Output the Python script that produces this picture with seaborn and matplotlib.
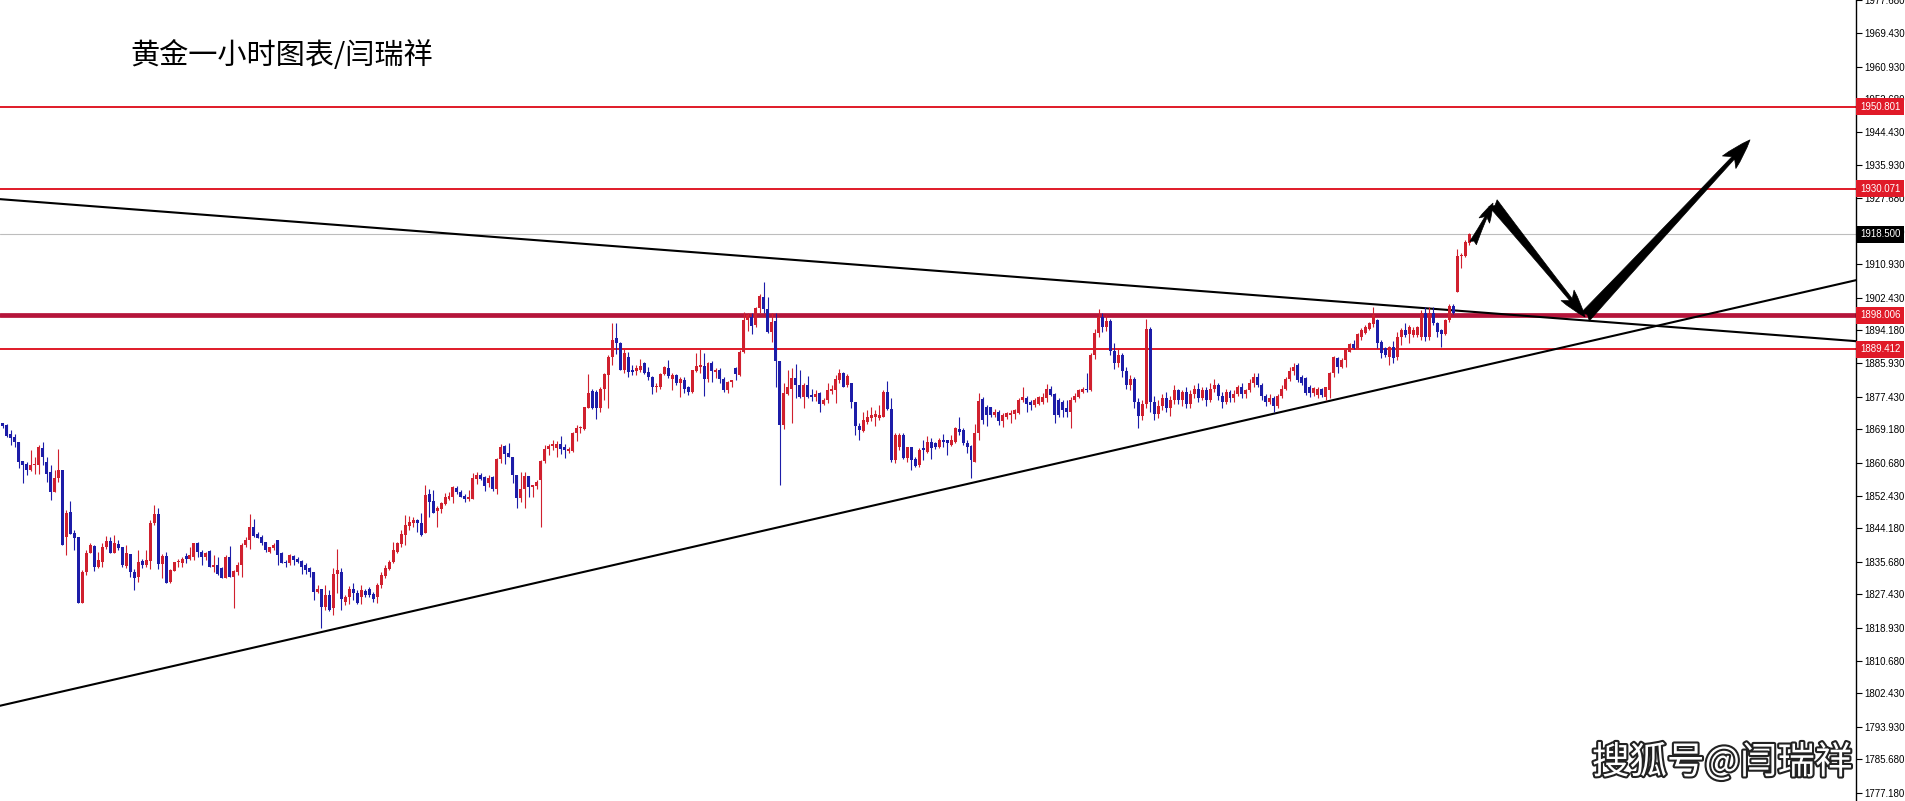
import matplotlib
matplotlib.use('Agg')
import matplotlib.pyplot as plt
import matplotlib.transforms as mtransforms
import matplotlib.patheffects as pe
import numpy as np
import pandas as pd
import seaborn as sns

# 黄金 1小时 K线 (从图上读出的开高低收)
OPEN = [
    1870.7, 1870.3, 1868.0, 1867.3, 1866.0, 1861.2, 1860.4, 1858.9, 1860.1, 1860.1,
    1864.4, 1861.0, 1858.5, 1853.4, 1856.8, 1859.0, 1842.0, 1848.3, 1842.9, 1842.0,
    1825.3, 1833.2, 1838.0, 1839.7, 1834.3, 1835.7, 1839.5, 1840.9, 1838.0, 1840.2,
    1839.5, 1834.6, 1837.6, 1833.2, 1831.9, 1835.9, 1834.8, 1835.9, 1845.4, 1847.7,
    1835.1, 1837.1, 1830.6, 1833.4, 1835.5, 1835.3, 1837.1, 1836.5, 1837.0, 1840.5,
    1838.2, 1837.0, 1838.5, 1834.4, 1834.8, 1834.0, 1831.5, 1837.0, 1831.9, 1833.2,
    1834.8, 1839.9, 1841.3, 1844.5, 1842.8, 1842.0, 1840.7, 1838.2, 1839.1, 1841.2,
    1838.0, 1835.7, 1835.3, 1837.1, 1836.5, 1835.9, 1834.8, 1834.0, 1833.2, 1828.1,
    1828.9, 1824.3, 1827.2, 1823.9, 1832.7, 1833.2, 1825.6, 1826.8, 1828.7, 1827.7,
    1826.8, 1828.4, 1828.9, 1827.4, 1826.8, 1829.8, 1832.1, 1833.8, 1835.7, 1838.2,
    1840.2, 1842.4, 1844.7, 1845.6, 1846.2, 1845.4, 1842.9, 1852.7, 1851.0, 1848.4,
    1848.9, 1850.3, 1851.5, 1852.1, 1854.4, 1853.4, 1852.3, 1851.5, 1851.5, 1856.5,
    1857.6, 1857.0, 1855.5, 1857.0, 1854.0, 1861.6, 1864.9, 1863.3, 1862.1, 1857.6,
    1851.7, 1854.0, 1857.4, 1854.5, 1854.8, 1856.4, 1861.2, 1864.1, 1864.9, 1864.4,
    1865.5, 1864.6, 1863.8, 1863.8, 1868.2, 1869.4, 1869.2, 1874.5, 1878.9, 1878.7,
    1874.5, 1879.3, 1882.9, 1887.4, 1892.2, 1891.1, 1884.2, 1887.6, 1884.3, 1884.0,
    1884.2, 1885.9, 1883.8, 1882.3, 1879.8, 1879.8, 1883.2, 1884.6, 1881.8, 1882.9,
    1881.0, 1881.6, 1879.8, 1878.7, 1884.0, 1885.0, 1885.2, 1881.8, 1886.0, 1883.8,
    1884.2, 1881.8, 1879.0, 1881.2, 1884.6, 1882.9, 1888.8, 1896.8, 1897.7, 1895.6,
    1899.8, 1902.7, 1899.5, 1893.9, 1896.7, 1886.5, 1870.3, 1878.1, 1879.5, 1882.1,
    1880.4, 1877.4, 1880.4, 1877.9, 1877.3, 1878.3, 1875.6, 1876.6, 1878.9, 1879.1,
    1881.6, 1883.3, 1880.4, 1880.8, 1876.2, 1870.0, 1868.8, 1871.1, 1872.0, 1872.4,
    1872.0, 1872.4, 1878.7, 1874.2, 1861.4, 1864.8, 1867.7, 1861.8, 1864.6, 1861.6,
    1860.1, 1864.4, 1863.5, 1866.0, 1865.6, 1864.6, 1866.6, 1866.5, 1865.2, 1866.0,
    1869.2, 1869.0, 1865.8, 1864.9, 1861.0, 1868.3, 1876.8, 1874.9, 1874.7, 1872.8,
    1873.6, 1871.4, 1872.4, 1872.8, 1873.0, 1873.2, 1876.6, 1877.0, 1876.2, 1875.3,
    1875.7, 1876.2, 1877.0, 1879.5, 1878.1, 1876.6, 1876.2, 1874.5, 1873.6, 1876.6,
    1877.4, 1878.7, 1879.5, 1879.0, 1888.0, 1893.5, 1897.5, 1895.0, 1896.5, 1889.0,
    1886.0, 1888.0, 1884.0, 1880.5, 1882.0, 1876.0, 1872.5, 1875.5, 1894.5, 1876.0,
    1873.0, 1875.0, 1877.0, 1874.5, 1876.5, 1879.0, 1876.5, 1878.5, 1875.5, 1878.0,
    1879.5, 1877.0, 1879.0, 1876.5, 1879.5, 1880.5, 1877.5, 1876.0, 1878.5, 1877.0,
    1878.0, 1880.0, 1878.0, 1879.0, 1881.0, 1882.5, 1880.5, 1877.5, 1876.0, 1877.0,
    1875.0, 1877.5, 1879.5, 1882.0, 1884.0, 1885.5, 1882.5, 1882.1, 1880.0, 1878.3,
    1877.9, 1879.3, 1877.4, 1879.1, 1883.3, 1887.1, 1885.0, 1886.7, 1888.8, 1890.8,
    1889.7, 1892.6, 1893.6, 1894.5, 1895.8, 1896.8, 1891.3, 1889.7, 1887.6, 1890.1,
    1887.6, 1892.6, 1894.3, 1893.3, 1893.0, 1893.0, 1892.6, 1898.7, 1892.6, 1898.7,
    1896.2, 1894.3, 1893.3, 1896.8, 1900.4, 1904.0, 1912.9, 1913.0, 1916.4,
]
HIGH = [
    1870.7, 1870.5, 1869.0, 1868.1, 1866.0, 1861.2, 1861.0, 1863.9, 1862.2, 1865.2,
    1866.0, 1862.2, 1860.1, 1858.9, 1864.1, 1859.0, 1848.8, 1851.1, 1843.7, 1842.0,
    1833.6, 1838.6, 1840.5, 1839.9, 1838.2, 1840.3, 1842.2, 1842.0, 1842.4, 1841.3,
    1839.5, 1839.9, 1837.6, 1833.8, 1838.6, 1836.5, 1838.6, 1846.2, 1850.0, 1849.2,
    1837.6, 1838.2, 1833.8, 1835.7, 1836.5, 1837.0, 1837.8, 1839.5, 1840.5, 1840.7,
    1838.6, 1838.2, 1838.6, 1837.4, 1836.9, 1834.4, 1837.4, 1839.6, 1833.6, 1835.7,
    1840.3, 1842.0, 1847.7, 1846.6, 1843.3, 1842.4, 1840.7, 1839.5, 1840.3, 1841.2,
    1838.2, 1836.1, 1837.6, 1837.4, 1836.9, 1836.1, 1835.3, 1834.4, 1833.2, 1829.8,
    1828.9, 1829.8, 1828.5, 1834.0, 1838.8, 1834.0, 1827.2, 1829.5, 1830.2, 1828.5,
    1829.8, 1828.9, 1829.4, 1828.1, 1830.2, 1833.2, 1834.8, 1836.1, 1840.7, 1840.7,
    1843.7, 1847.5, 1847.2, 1847.1, 1846.6, 1847.9, 1855.1, 1854.2, 1853.8, 1849.8,
    1850.9, 1853.0, 1853.4, 1854.8, 1854.8, 1853.8, 1852.8, 1853.8, 1858.2, 1858.5,
    1858.2, 1857.4, 1857.6, 1857.4, 1861.8, 1865.5, 1865.2, 1865.8, 1862.1, 1857.6,
    1858.5, 1858.5, 1857.4, 1855.1, 1856.4, 1861.4, 1865.2, 1865.5, 1866.4, 1866.1,
    1867.5, 1865.5, 1864.8, 1868.6, 1870.3, 1870.0, 1874.9, 1883.2, 1879.5, 1879.1,
    1879.8, 1883.3, 1888.0, 1896.1, 1896.0, 1891.3, 1889.4, 1888.8, 1885.4, 1885.4,
    1886.9, 1886.3, 1885.0, 1882.7, 1880.8, 1883.5, 1885.2, 1886.7, 1883.5, 1883.2,
    1882.3, 1882.3, 1880.1, 1884.3, 1888.4, 1889.4, 1888.4, 1886.3, 1886.5, 1884.6,
    1884.6, 1882.3, 1881.5, 1881.6, 1885.0, 1889.2, 1898.9, 1898.7, 1898.7, 1900.0,
    1903.4, 1906.5, 1902.6, 1898.5, 1898.5, 1886.5, 1880.8, 1884.2, 1884.6, 1885.7,
    1884.2, 1880.8, 1882.7, 1879.5, 1879.1, 1878.7, 1877.0, 1880.8, 1880.4, 1882.9,
    1884.4, 1883.8, 1883.2, 1880.8, 1876.2, 1870.7, 1873.6, 1874.1, 1874.9, 1874.1,
    1875.3, 1879.1, 1881.5, 1877.0, 1868.2, 1868.2, 1868.2, 1864.8, 1864.8, 1862.3,
    1864.4, 1866.5, 1867.5, 1866.9, 1866.0, 1867.1, 1868.0, 1866.6, 1867.7, 1869.8,
    1872.2, 1869.4, 1866.5, 1865.2, 1870.5, 1878.4, 1877.4, 1875.3, 1874.9, 1874.2,
    1874.1, 1873.2, 1873.6, 1874.1, 1874.2, 1877.0, 1880.0, 1877.6, 1876.6, 1877.0,
    1877.6, 1878.3, 1880.6, 1880.1, 1878.3, 1877.0, 1876.6, 1876.6, 1877.4, 1878.3,
    1879.5, 1880.0, 1883.3, 1888.5, 1894.5, 1899.5, 1898.5, 1898.0, 1897.0, 1891.0,
    1889.5, 1888.5, 1885.0, 1883.0, 1882.5, 1877.0, 1876.5, 1897.0, 1895.0, 1877.5,
    1876.5, 1878.0, 1878.5, 1877.5, 1880.5, 1879.5, 1879.0, 1880.0, 1879.0, 1880.5,
    1881.0, 1880.0, 1880.0, 1881.0, 1882.0, 1881.0, 1878.5, 1879.5, 1879.0, 1879.0,
    1880.5, 1881.0, 1879.5, 1882.0, 1883.5, 1883.5, 1881.0, 1878.0, 1878.0, 1877.5,
    1878.0, 1880.5, 1882.5, 1885.0, 1886.0, 1885.9, 1882.8, 1882.3, 1880.4, 1880.0,
    1879.8, 1879.6, 1880.0, 1883.7, 1887.7, 1887.6, 1887.1, 1889.7, 1891.1, 1891.9,
    1893.6, 1894.7, 1895.6, 1896.4, 1900.0, 1897.2, 1891.8, 1890.1, 1890.3, 1891.6,
    1893.9, 1894.7, 1896.0, 1895.6, 1895.1, 1895.3, 1899.4, 1900.2, 1900.2, 1900.2,
    1896.4, 1894.5, 1897.2, 1900.9, 1900.9, 1914.9, 1913.7, 1917.1, 1918.9,
]
LOW = [
    1869.4, 1867.3, 1865.2, 1864.6, 1859.5, 1855.5, 1857.6, 1858.7, 1858.0, 1858.0,
    1860.1, 1855.9, 1851.3, 1853.4, 1855.9, 1839.9, 1837.4, 1842.7, 1838.6, 1825.3,
    1825.3, 1832.3, 1837.8, 1833.4, 1834.0, 1834.4, 1838.8, 1837.8, 1837.8, 1838.6,
    1834.4, 1834.0, 1831.9, 1828.5, 1830.6, 1834.0, 1834.4, 1833.8, 1845.0, 1833.8,
    1831.5, 1830.4, 1830.2, 1833.3, 1834.4, 1834.4, 1835.3, 1836.1, 1836.1, 1837.0,
    1834.8, 1836.1, 1834.4, 1833.2, 1832.3, 1831.5, 1831.5, 1831.7, 1823.9, 1832.3,
    1831.9, 1839.5, 1838.8, 1842.0, 1841.6, 1839.9, 1838.2, 1837.8, 1838.6, 1834.8,
    1835.3, 1834.4, 1834.8, 1834.8, 1835.3, 1832.7, 1832.7, 1831.9, 1826.0, 1827.7,
    1818.8, 1823.5, 1823.3, 1822.2, 1827.7, 1823.5, 1824.7, 1825.1, 1826.0, 1825.1,
    1825.1, 1826.8, 1826.8, 1825.6, 1825.3, 1829.0, 1831.5, 1833.6, 1835.3, 1837.8,
    1839.5, 1839.9, 1843.7, 1844.5, 1843.3, 1842.2, 1842.9, 1847.1, 1847.9, 1844.5,
    1847.9, 1850.0, 1851.3, 1850.6, 1852.8, 1852.0, 1850.9, 1851.1, 1851.5, 1855.3,
    1856.4, 1853.6, 1854.5, 1853.6, 1852.8, 1860.6, 1860.4, 1862.1, 1855.5, 1849.2,
    1850.9, 1849.2, 1852.0, 1852.0, 1854.2, 1844.5, 1860.6, 1862.7, 1864.0, 1862.3,
    1862.9, 1861.8, 1863.1, 1863.5, 1866.3, 1868.2, 1869.0, 1874.5, 1874.2, 1871.7,
    1873.6, 1876.6, 1874.5, 1885.4, 1888.2, 1884.2, 1883.3, 1882.5, 1882.9, 1882.9,
    1883.8, 1883.2, 1881.6, 1878.1, 1878.7, 1879.5, 1882.9, 1882.1, 1879.1, 1880.4,
    1877.3, 1878.3, 1877.9, 1878.3, 1883.8, 1883.5, 1877.6, 1881.2, 1881.2, 1882.1,
    1880.8, 1878.7, 1878.3, 1879.8, 1881.6, 1882.7, 1888.4, 1894.1, 1893.3, 1895.1,
    1898.5, 1898.5, 1893.5, 1891.3, 1880.0, 1855.1, 1869.2, 1877.9, 1870.7, 1877.0,
    1877.0, 1874.5, 1877.0, 1876.4, 1876.4, 1873.6, 1875.3, 1875.9, 1878.1, 1875.8,
    1880.8, 1879.8, 1880.0, 1874.5, 1867.7, 1866.5, 1868.6, 1870.5, 1871.4, 1869.9,
    1871.5, 1872.2, 1874.1, 1861.0, 1860.6, 1864.0, 1861.6, 1861.0, 1858.9, 1859.7,
    1859.7, 1861.4, 1863.3, 1861.6, 1864.1, 1864.4, 1864.8, 1862.7, 1864.9, 1865.6,
    1867.7, 1865.2, 1863.3, 1856.8, 1861.0, 1866.5, 1870.5, 1870.0, 1872.2, 1872.4,
    1870.3, 1869.8, 1871.7, 1870.9, 1871.9, 1873.0, 1876.2, 1873.6, 1874.1, 1874.9,
    1875.3, 1875.7, 1876.2, 1877.6, 1870.7, 1872.4, 1872.4, 1872.4, 1869.4, 1876.2,
    1877.0, 1878.3, 1878.7, 1878.8, 1887.0, 1892.5, 1893.8, 1894.0, 1888.0, 1884.5,
    1885.0, 1882.5, 1879.5, 1879.0, 1874.5, 1869.5, 1871.5, 1874.5, 1873.5, 1871.5,
    1872.0, 1874.0, 1873.5, 1872.5, 1875.5, 1875.5, 1875.0, 1874.5, 1874.5, 1877.0,
    1876.0, 1876.5, 1875.0, 1876.0, 1878.5, 1876.5, 1874.5, 1875.5, 1876.0, 1876.0,
    1877.5, 1877.0, 1877.0, 1878.5, 1880.0, 1880.0, 1876.5, 1875.0, 1875.5, 1873.5,
    1874.5, 1877.0, 1879.0, 1881.5, 1883.0, 1881.2, 1880.3, 1877.9, 1877.4, 1877.6,
    1877.2, 1877.4, 1876.6, 1877.0, 1882.5, 1883.3, 1884.6, 1885.0, 1888.8, 1889.4,
    1889.7, 1891.9, 1893.3, 1894.3, 1895.1, 1889.7, 1887.1, 1887.6, 1885.4, 1885.9,
    1886.7, 1890.5, 1892.6, 1890.9, 1892.6, 1892.6, 1891.8, 1891.6, 1891.8, 1895.6,
    1892.6, 1890.1, 1893.0, 1896.4, 1898.3, 1904.0, 1909.9, 1912.8, 1915.8,
]
CLOSE = [
    1870.0, 1867.5, 1867.1, 1866.0, 1861.0, 1860.1, 1858.9, 1860.1, 1860.3, 1864.8,
    1862.2, 1858.0, 1853.4, 1856.8, 1859.0, 1839.9, 1847.9, 1842.7, 1841.6, 1825.3,
    1833.2, 1838.0, 1839.9, 1834.4, 1836.0, 1839.5, 1841.0, 1838.0, 1840.3, 1839.1,
    1834.8, 1837.8, 1833.2, 1831.5, 1835.7, 1834.8, 1836.1, 1845.4, 1847.7, 1835.1,
    1837.2, 1830.4, 1833.6, 1835.7, 1835.8, 1836.3, 1836.5, 1837.4, 1840.3, 1838.2,
    1837.0, 1837.8, 1834.4, 1834.8, 1832.7, 1831.5, 1837.0, 1831.7, 1833.4, 1834.8,
    1839.9, 1841.3, 1844.5, 1842.2, 1841.8, 1840.5, 1838.6, 1839.3, 1839.9, 1837.4,
    1835.4, 1835.3, 1837.4, 1836.1, 1835.7, 1834.4, 1833.6, 1833.2, 1828.1, 1828.9,
    1824.3, 1827.2, 1823.5, 1832.7, 1833.6, 1826.2, 1826.8, 1828.9, 1827.7, 1825.3,
    1828.5, 1827.2, 1827.3, 1826.2, 1829.8, 1832.3, 1834.0, 1835.7, 1838.6, 1840.3,
    1842.7, 1845.0, 1845.8, 1846.2, 1845.4, 1842.4, 1852.6, 1850.9, 1847.9, 1849.2,
    1850.6, 1852.0, 1852.3, 1854.5, 1853.2, 1852.1, 1851.5, 1852.0, 1856.8, 1857.6,
    1856.5, 1854.8, 1856.8, 1854.0, 1861.6, 1864.8, 1862.9, 1862.1, 1857.6, 1851.7,
    1854.2, 1857.4, 1854.5, 1855.1, 1855.9, 1861.2, 1864.1, 1864.9, 1865.5, 1865.5,
    1864.1, 1864.0, 1864.1, 1868.3, 1869.4, 1869.7, 1874.7, 1878.4, 1874.5, 1874.5,
    1879.5, 1883.2, 1887.6, 1891.9, 1890.9, 1884.2, 1888.4, 1883.8, 1883.8, 1884.6,
    1885.2, 1883.3, 1882.3, 1879.8, 1880.1, 1883.2, 1884.9, 1882.7, 1882.9, 1881.0,
    1881.8, 1879.3, 1878.7, 1884.2, 1885.2, 1885.4, 1881.8, 1886.0, 1884.0, 1884.3,
    1881.8, 1879.1, 1881.2, 1881.6, 1883.2, 1888.8, 1896.8, 1898.1, 1895.3, 1899.8,
    1902.9, 1899.5, 1893.9, 1896.4, 1886.5, 1870.3, 1878.3, 1879.8, 1882.1, 1880.4,
    1877.4, 1880.4, 1877.4, 1877.3, 1878.1, 1875.6, 1876.6, 1879.1, 1879.5, 1881.8,
    1883.3, 1879.9, 1882.7, 1876.2, 1869.9, 1869.0, 1871.5, 1872.2, 1872.8, 1873.1,
    1872.8, 1878.7, 1874.2, 1861.4, 1867.7, 1867.7, 1861.8, 1864.6, 1861.4, 1859.9,
    1863.9, 1863.9, 1866.0, 1864.4, 1864.6, 1866.6, 1866.0, 1865.6, 1866.5, 1869.4,
    1868.6, 1865.6, 1864.6, 1861.4, 1868.3, 1876.4, 1871.5, 1872.8, 1872.8, 1873.6,
    1871.4, 1872.8, 1873.2, 1873.2, 1874.1, 1876.6, 1877.3, 1875.7, 1875.3, 1876.6,
    1877.4, 1877.4, 1879.5, 1877.8, 1872.8, 1872.8, 1874.1, 1873.6, 1876.6, 1877.6,
    1879.0, 1879.5, 1879.0, 1888.0, 1893.5, 1897.5, 1895.0, 1896.5, 1889.0, 1886.0,
    1888.0, 1884.0, 1880.5, 1882.0, 1876.0, 1872.5, 1875.5, 1894.5, 1876.0, 1873.0,
    1875.0, 1877.0, 1874.5, 1876.5, 1879.0, 1876.5, 1878.5, 1875.5, 1878.0, 1879.5,
    1877.0, 1879.0, 1876.5, 1879.5, 1880.5, 1877.5, 1876.0, 1878.5, 1877.0, 1878.0,
    1880.0, 1878.0, 1879.0, 1881.0, 1882.5, 1880.5, 1877.5, 1876.0, 1877.0, 1875.0,
    1877.5, 1879.5, 1882.0, 1884.0, 1885.0, 1881.7, 1880.8, 1878.3, 1878.3, 1879.6,
    1879.3, 1877.9, 1880.0, 1883.5, 1887.6, 1885.0, 1886.7, 1889.2, 1890.8, 1889.7,
    1893.3, 1894.3, 1895.1, 1896.2, 1898.1, 1890.9, 1888.4, 1888.0, 1890.1, 1887.1,
    1892.6, 1894.3, 1893.0, 1895.1, 1894.3, 1895.1, 1898.5, 1892.6, 1898.7, 1896.0,
    1893.9, 1893.3, 1896.8, 1900.4, 1898.7, 1912.9, 1913.4, 1916.6, 1918.5,
]

Y_TICKS = [1977.68, 1969.43, 1960.93, 1952.68, 1944.43, 1935.93, 1927.68, 1919.18,
           1910.93, 1902.43, 1894.18, 1885.93, 1877.43, 1869.18, 1860.68, 1852.43,
           1844.18, 1835.68, 1827.43, 1818.93, 1810.68, 1802.43, 1793.93, 1785.68,
           1777.18]
Y_RANGE = (1775.16, 1977.78)
X_RANGE = (-0.68, 465.1)

# 水平位
THIN_LEVELS = [1950.801, 1930.071, 1889.412]
KEY_LEVEL = 1898.006
BID = 1918.500

# 趋势线：两个锚点 (K线序号, 价格)
TREND_DOWN = [(0, 1927.35), (400, 1896.5)]
TREND_UP = [(0, 1799.41), (400, 1891.86)]

# 预期走势箭头：起点, 终点
ARROW_START = [(369.0, 1916.3), (374.0, 1926.4), (397.1, 1897.6)]
ARROW_END = [(374.0, 1926.4), (397.1, 1897.6), (438.5, 1942.4)]
ARROW_SIZE = [14, 20, 22]

TITLE = '黄金一小时图表/闫瑞祥'
MARK = '搜狐号@闫瑞祥'

RED = '#d0202e'
BLUE = '#1c1ca8'
LINE_RED = '#e01a28'
KEY_RED = '#b5143a'
AXIS_FONT = 'Liberation Sans'


def main():
    sns.set_style('white')
    plt.rcParams['font.family'] = ['Noto Sans CJK SC', 'DejaVu Sans']

    df = pd.DataFrame({'open': OPEN, 'high': HIGH, 'low': LOW, 'close': CLOSE})
    df['x'] = np.arange(len(df))
    df['color'] = np.where(df['close'] >= df['open'], RED, BLUE)
    body = (df['close'] - df['open']).abs().clip(lower=0.25)
    bottom = df[['open', 'close']].min(axis=1)

    fig = plt.figure(figsize=(19.06, 8.01), dpi=100)
    ax = fig.add_axes([0, 0, 1856 / 1906, 1])

    # 水平线
    for lvl in THIN_LEVELS:
        ax.axhline(lvl, color=LINE_RED, lw=1.4, zorder=1)
    ax.axhline(KEY_LEVEL, color=KEY_RED, lw=3.4, zorder=1)
    ax.axhline(BID, color='#bdbdbd', lw=0.8, zorder=1)

    # K线
    ax.vlines(df['x'], df['low'], df['high'], colors=df['color'], lw=0.8, zorder=3)
    ax.bar(df['x'], body, bottom=bottom, width=0.75, color=df['color'],
           linewidth=0, zorder=3)

    # 趋势线
    ax.axline(TREND_DOWN[0], TREND_DOWN[1], color='black', lw=1.5, zorder=2)
    ax.axline(TREND_UP[0], TREND_UP[1], color='black', lw=1.5, zorder=2)

    # 箭头
    for start, end, size in zip(ARROW_START, ARROW_END, ARROW_SIZE):
        ax.annotate('', xy=end, xytext=start,
                    arrowprops=dict(arrowstyle='fancy,head_length=1.0,head_width=0.6,tail_width=0.38',
                                    mutation_scale=size, fc='black', ec='black', lw=0.5,
                                    shrinkA=0, shrinkB=0), zorder=5)

    ax.set_xlim(*X_RANGE)
    ax.set_ylim(*Y_RANGE)
    ax.set_xticks([])
    for s in ['left', 'top', 'bottom']:
        ax.spines[s].set_visible(False)
    ax.spines['right'].set_color('black')
    ax.spines['right'].set_linewidth(1.0)
    ax.yaxis.tick_right()
    ax.set_yticks(Y_TICKS)
    ax.set_yticklabels(['%.3f' % v for v in Y_TICKS], fontsize=7, family=AXIS_FONT)
    ax.tick_params(axis='y', direction='out', length=4, width=0.8, pad=2, colors='black')

    # 右侧价格标签
    trans = mtransforms.blended_transform_factory(ax.transAxes, ax.transData)
    labels = [(lvl, LINE_RED) for lvl in THIN_LEVELS] + [(KEY_LEVEL, LINE_RED), (BID, 'black')]
    for lvl, bg in labels:
        ax.text(1.0 + 4 / 1856, lvl, '%.3f' % lvl, transform=trans, ha='left', va='center',
                fontsize=7, family=AXIS_FONT, color='white', clip_on=False, zorder=10,
                bbox=dict(boxstyle='square,pad=0.36', fc=bg, ec='none'))

    fig.text(130 / 1906, 1 - 56 / 801, TITLE, fontsize=21, va='center', ha='left', color='black')
    fig.text(1592 / 1906, 1 - 763 / 801, MARK, fontsize=27, va='center', ha='left', color='white',
             path_effects=[pe.withStroke(linewidth=3, foreground='#222222')])

    fig.savefig('out.png', dpi=100)


if __name__ == "__main__":
    main()
